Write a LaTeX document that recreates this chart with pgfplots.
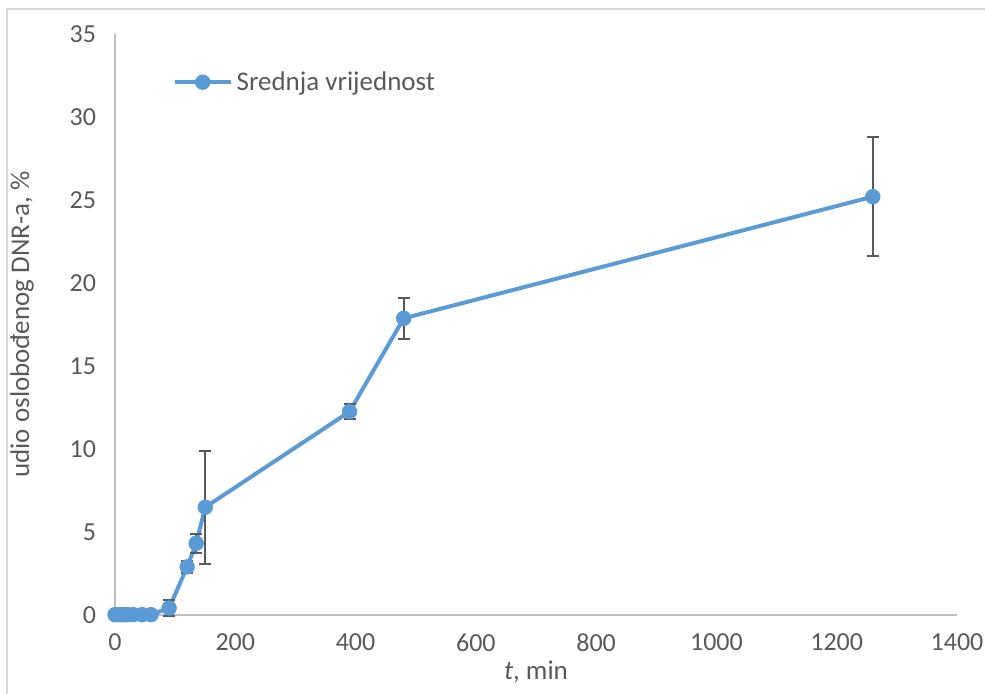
\documentclass[border=0pt]{standalone}
\usepackage{pgfplots}
\pgfplotsset{compat=1.18}
\usepackage{fontspec}
\setmainfont{Carlito}
\definecolor{ser}{HTML}{5B9BD5}
\definecolor{txt}{HTML}{595959}
\definecolor{axl}{HTML}{BFBFBF}
\definecolor{brd}{HTML}{D9D9D9}
\begin{document}
\begin{tikzpicture}
\useasboundingbox (0pt,0pt) rectangle (492.5pt,347pt);
\draw[brd, line width=0.6pt] (3.5pt,0pt) -- (3.5pt,342.5pt) -- (492.5pt,342.5pt);
\begin{axis}[
  at={(57.5pt,39.5pt)}, anchor=south west,
  scale only axis, width=421pt, height=290.5pt,
  xmin=0, xmax=1400, ymin=0, ymax=35,
  xtick={0,200,...,1400}, ytick={0,5,...,35},
  axis x line*=bottom, axis y line*=left,
  axis line style={axl, line width=0.8pt, -},
  major tick length=0pt,
  tick label style={txt, font=\fontsize{13}{15}\selectfont},
  /pgf/number format/assume math mode=true,
  /pgf/number format/1000 sep={},
  xticklabel style={yshift=-6pt},
  yticklabel style={xshift=-6pt},
  xlabel={\textit{t}, min},
  ylabel={udio oslobođenog DNR-a, \%},
  every axis x label/.style={at={(rel axis cs:0.5,-0.098)}, anchor=center, text=txt, font=\fontsize{13.5}{15}\selectfont},
  every axis y label/.style={at={(rel axis cs:-0.1105,0.5)}, anchor=center, rotate=90, text=txt, font=\fontsize{13.5}{15}\selectfont},
  legend style={draw=none, fill=none, at={(rel axis cs:0.068,0.917)}, anchor=west,
    font=\fontsize{13.5}{15}\selectfont, text=txt, inner sep=0pt},
  legend cell align=left,
  legend image code/.code={\draw[mark repeat=2,mark phase=2,#1] plot coordinates {(0pt,0pt) (14pt,0pt) (28pt,0pt)};},
  clip=false,
]
\addplot[ser, line width=2pt, mark=*, mark size=3.6pt, mark options={fill=ser, draw=ser, line width=0.5pt},
  error bars/.cd, y dir=both, y explicit,
  error bar style={txt, line width=1pt},
  error mark options={rotate=90, mark size=3pt, txt, line width=1pt}]
  table[x=x, y=y, y error=e] {
x y e
0 0.02 0
5 0.02 0
10 0.02 0
15 0.02 0
20 0.02 0
30 0.02 0
45 0.02 0
60 0.02 0
90 0.42 0.5
120 2.9 0.37
135 4.32 0.56
150 6.49 3.4
390 12.25 0.47
480 17.87 1.25
1260 25.2 3.6
};
\addlegendentry{Srednja vrijednost}
\end{axis}
\end{tikzpicture}
\end{document}
